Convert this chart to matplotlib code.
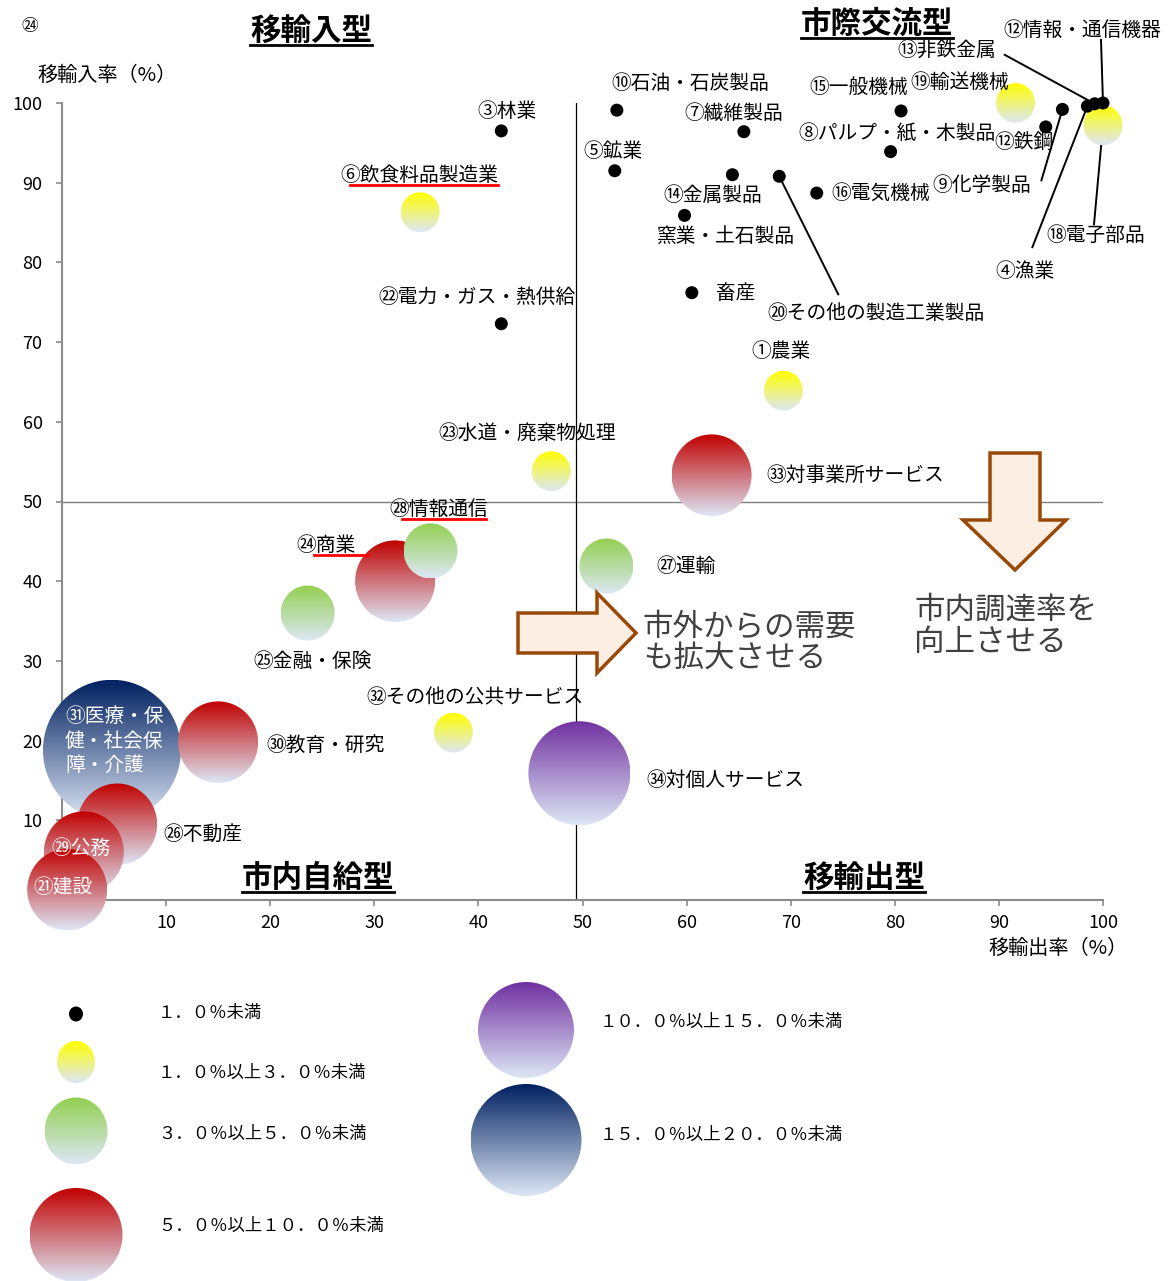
import numpy as np
import matplotlib
matplotlib.use("Agg")
import matplotlib.pyplot as plt
from matplotlib.patches import Ellipse, Polygon
from matplotlib.lines import Line2D
from matplotlib.colors import to_rgb

plt.rcParams['font.family'] = ['Noto Sans CJK JP', 'DejaVu Sans']

W, H = 1169, 1281

# ---------------- data ----------------
labels = ['①農業', '畜産', '③林業', '④漁業', '⑤鉱業', '⑥飲食料品製造業', '⑦繊維製品',
          '⑧パルプ・紙・木製品', '⑨化学製品', '⑩石油・石炭製品', '⑫鉄鋼', '⑫情報・通信機器',
          '⑬非鉄金属', '⑭金属製品', '窯業・土石製品', '⑮一般機械', '⑯電気機械', '⑱電子部品',
          '⑲輸送機械', '⑳その他の製造工業製品', '㉑建設', '㉒電力・ガス・熱供給',
          '㉓水道・廃棄物処理', '㉔商業', '㉕金融・保険', '㉖不動産', '㉗運輸', '㉘情報通信',
          '㉙公務', '㉚教育・研究', '㉛医療・保\n健・社会保\n障・介護', '㉜その他の公共サービス',
          '㉝対事業所サービス', '㉞対個人サービス']
export_rate = [69.3, 60.5, 42.2, 98.5, 53.1, 34.4, 65.5, 79.6, 96.1, 53.3, 94.5, 100.0,
               99.2, 64.4, 59.8, 80.6, 72.5, 100.0, 91.6, 68.9, 0.5, 42.2, 47.0, 32.0,
               23.6, 5.3, 52.3, 35.4, 2.1, 15.0, 4.8, 37.6, 62.4, 49.7]
import_rate = [63.9, 76.2, 96.5, 99.6, 91.5, 86.3, 96.4, 93.9, 99.2, 99.1, 97.0, 100.0,
               99.9, 91.0, 85.9, 99.0, 88.7, 97.2, 100.0, 90.8, 1.3, 72.3, 53.8, 40.0,
               36.0, 9.5, 41.9, 43.8, 6.0, 19.8, 18.8, 21.0, 53.3, 15.9]
# share class: 0 <1%, 1 1-3%, 2 3-5%, 3 5-10%, 4 10-15%, 5 15-20%
share_class = [1, 0, 0, 0, 0, 1, 0, 0, 0, 0, 0, 0, 0, 0, 0, 0, 0, 1, 1, 0, 3, 0, 1, 3,
               2, 3, 2, 2, 3, 3, 5, 1, 3, 4]
legend_labels = ['１．０％未満', '１．０％以上３．０％未満', '３．０％以上５．０％未満',
                 '５．０％以上１０．０％未満', '１０．０％以上１５．０％未満',
                 '１５．０％以上２０．０％未満']
xticks = [10, 20, 30, 40, 50, 60, 70, 80, 90, 100]
yticks = [10, 20, 30, 40, 50, 60, 70, 80, 90, 100]

# ---------------- styles / layout ----------------
class_diam = [13, 39, 54, 80, 102, 138]
class_color = ['black', '#ffff00', '#92d050', '#c00000', '#7030a0', '#002060']
bottom_color = '#dde7f5'
label_offsets = [(-32, 39), (24, -1), (-24, 19), (-92, -165), (-31, 19), (-80, 37),
                 (-59, 18), (-92, 18), (-130, -76), (-5, 27), (-51, -16), (-100, 73),
                 (-197, 53), (-69, -21), (-28, -21), (-92, 24), (15, 0), (-57, -110),
                 (-105, 21), (-12, -137), (-34, 2), (-123, 26), (-113, 38), (-99, 36),
                 (-54, -48), (46, -10), (50, 0), (-41, 41), (-32, 4), (48, -3), (-47, 9),
                 (-87, 35), (55, 0), (67, -7)]
white_labels = {20, 28, 30}
leaders = {3: (-55, -141), 8: (-21, -71), 11: (-2, 63), 12: (-90, 49), 17: (-9, -99),
           19: (59, -118)}
red_underline = {5: (10, 0), 27: (12, -2), 23: (18, 13)}

fig = plt.figure(figsize=(W / 100, H / 100), dpi=100)
fig.patch.set_facecolor('white')

x0, x1 = 62, 1103
ytop, ybot = 103, 900
ax = fig.add_axes([x0 / W, (H - ybot) / H, (x1 - x0) / W, (ybot - ytop) / H])
ax.set_xlim(0, 100)
ax.set_ylim(0, 100)
for s in ['top', 'right']:
    ax.spines[s].set_visible(False)
for s in ['left', 'bottom']:
    ax.spines[s].set_color('#8c8c8c')
    ax.spines[s].set_linewidth(1.5)
ax.set_xticks(xticks)
ax.set_yticks(yticks)
ax.tick_params(axis='both', direction='out', length=4, color='#8c8c8c', width=1.2,
               labelsize=13)
ax.tick_params(axis='y', pad=10)
ax.tick_params(axis='x', pad=6)
ax.axhline(50, color='#7f7f7f', lw=1)
ax.axvline(49.4, color='black', lw=0.9)

# overlay axes in figure pixels
axo = fig.add_axes([0, 0, 1, 1])
axo.set_zorder(5)
axo.axis('off')

pts = ax.transData.transform(np.column_stack([export_rate, import_rate]))


def grad_ellipse(cx, cy, w, h, top, z):
    topc = np.array(to_rgb(top))
    botc = np.array(to_rgb(bottom_color))
    t = np.linspace(0, 1, 200)[:, None]
    img = (topc * (1 - t) + botc * t)[:, None, :]
    e = Ellipse((cx, cy), w, h, facecolor='none', edgecolor='none', zorder=z)
    axo.add_patch(e)
    im = axo.imshow(img, extent=(cx - w / 2, cx + w / 2, cy - h / 2, cy + h / 2),
                    origin='upper', aspect='auto', zorder=z, interpolation='bilinear')
    im.set_clip_path(e)


def dot(cx, cy, w, h, z):
    axo.add_patch(Ellipse((cx, cy), w, h, facecolor='black', edgecolor='none', zorder=z))


# leader lines
for i, (lx, ly) in leaders.items():
    px, py = pts[i]
    axo.add_line(Line2D([px + lx, px], [py + ly, py], color='black', lw=1.4, zorder=2))

order = sorted(range(len(labels)), key=lambda i: (-class_diam[share_class[i]], -import_rate[i]))
for k, i in enumerate(order):
    c = share_class[i]
    px, py = pts[i]
    d = class_diam[c]
    if c == 0:
        dot(px, py, d, d, 3 + k * 0.01)
    else:
        grad_ellipse(px, py, d, d * 1.02, class_color[c], 3 + k * 0.01)

texts = {}
for i, lab in enumerate(labels):
    px, py = pts[i]
    dx, dy = label_offsets[i]
    col = 'white' if i in white_labels else 'black'
    texts[i] = axo.text(px + dx, py + dy, lab, fontsize=14.2, color=col, ha='left',
                        va='center', zorder=10, linespacing=1.2)


def Y(y):
    return H - y


# titles
titles = [('移輸入型', 311, 31), ('市際交流型', 877, 24), ('市内自給型', 318, 878),
          ('移輸出型', 864, 878)]
title_texts = []
for s, tx, ty in titles:
    title_texts.append(axo.text(tx, Y(ty), s, fontsize=22, fontweight='bold', ha='center',
                                va='center', zorder=10))

axo.text(30, Y(27), '㉔', fontsize=12, ha='center', va='center')
axo.text(107, Y(75), '移輸入率（%）', fontsize=14.5, ha='center', va='center')
axo.text(1058, Y(948), '移輸出率（%）', fontsize=14.5, ha='center', va='center')

# arrows
arrow_fc = '#fdeee4'
arrow_ec = '#984807'
right_arrow = [(518, 613), (597, 613), (597, 593), (636, 633), (597, 673), (597, 653), (518, 653)]
down_arrow = [(990, 453), (1040, 453), (1040, 520), (1066, 520), (1015, 570), (963, 520), (990, 520)]
for poly in (right_arrow, down_arrow):
    axo.add_patch(Polygon([(a, Y(b)) for a, b in poly], closed=True, facecolor=arrow_fc,
                          edgecolor=arrow_ec, lw=2.5, zorder=8))
axo.text(643, Y(643), '市外からの需要\nも拡大させる', fontsize=22, color='#404040',
         ha='left', va='center', linespacing=1.05, zorder=10)
axo.text(914, Y(626), '市内調達率を\n向上させる', fontsize=22, color='#404040',
         ha='left', va='center', linespacing=1.05, zorder=10)

# legend
leg_pos = [(76, 1014), (76, 1062), (76, 1131), (76, 1235), (526, 1030), (526, 1140)]
leg_size = [(14, 15), (38, 42), (63, 67), (93, 94), (96, 96), (111, 112)]
leg_text = [(158, 1013), (158, 1073), (158, 1134), (158, 1226), (600, 1022), (600, 1135)]
for c in range(6):
    cx, cy = leg_pos[c]
    w, h = leg_size[c]
    if c == 0:
        dot(cx, Y(cy), w, h, 3)
    else:
        grad_ellipse(cx, Y(cy), w, h, class_color[c], 3)
    tx, ty = leg_text[c]
    axo.text(tx, Y(ty), legend_labels[c], fontsize=12.5, ha='left', va='center')

axo.set_xlim(0, W)
axo.set_ylim(0, H)

# underlines
fig.canvas.draw()
r = fig.canvas.get_renderer()
for t in title_texts:
    bb = t.get_window_extent(r)
    axo.add_line(Line2D([bb.x0, bb.x1], [bb.y0 + 2, bb.y0 + 2], color='black', lw=2, zorder=10))
for i, (a, b) in red_underline.items():
    bb = texts[i].get_window_extent(r)
    axo.add_line(Line2D([bb.x0 + a, bb.x1 + b], [bb.y0 + 1, bb.y0 + 1], color='red', lw=2,
                        zorder=10))

fig.savefig('out.png', dpi=100)
